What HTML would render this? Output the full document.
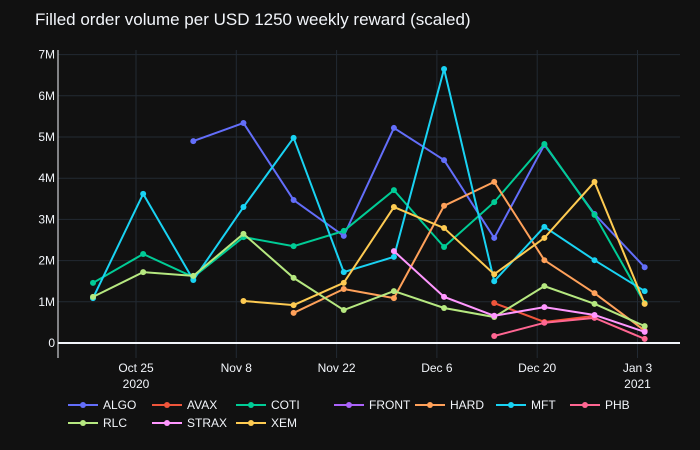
<!DOCTYPE html>
<html><head><meta charset="utf-8"><style>
body{margin:0;background:#111111;}
svg{display:block;font-family:"Liberation Sans",sans-serif;}
</style></head><body>
<svg id="c" width="700" height="450">
<rect width="700" height="450" fill="#111111"/>
<text x="35" y="25" fill="#f2f5fa" font-size="17">Filled order volume per USD 1250 weekly reward (scaled)</text>
<g id="grid"></g><g id="marks"></g><g id="legend"></g>
</svg>
<script>
const categories=["2020-10-19","2020-10-26","2020-11-02","2020-11-09","2020-11-16","2020-11-23","2020-11-30","2020-12-07","2020-12-14","2020-12-21","2020-12-28","2021-01-04"];
const seriesNames=["ALGO","AVAX","COTI","FRONT","HARD","MFT","PHB","RLC","STRAX","XEM"];
const colors=["#636efa","#EF553B","#00cc96","#ab63fa","#FFA15A","#19d3f3","#FF6692","#B6E880","#FF97FF","#FECB52"];
const ALGO=[null,null,4.90,5.34,3.47,2.60,5.22,4.44,2.55,4.81,3.13,1.84];
const AVAX=[null,null,null,null,null,null,null,null,0.97,0.51,0.66,null];
const COTI=[1.46,2.16,1.60,2.57,2.35,2.72,3.71,2.33,3.42,4.83,3.11,0.97];
const FRONT=[null,null,null,null,null,null,null,null,null,null,null,null];
const HARD=[null,null,null,null,0.73,1.31,1.09,3.33,3.91,2.01,1.21,0.30];
const MFT=[1.09,3.62,1.53,3.30,4.98,1.72,2.09,6.65,1.50,2.82,2.01,1.26];
const PHB=[null,null,null,null,null,null,null,null,0.17,0.49,0.61,0.10];
const RLC=[1.12,1.72,1.63,2.65,1.58,0.80,1.26,0.85,0.63,1.38,0.95,0.41];
const STRAX=[null,null,null,null,null,null,2.23,1.12,0.66,0.87,0.68,0.27];
const XEM=[null,null,null,1.02,0.92,1.46,3.30,2.79,1.67,2.55,3.91,0.95];
const series=[ALGO,AVAX,COTI,FRONT,HARD,MFT,PHB,RLC,STRAX,XEM];
const yTicks=[0,1,2,3,4,5,6,7];
const yTickLabels=["0","1M","2M","3M","4M","5M","6M","7M"];
const xTicks=["2020-10-25","2020-11-08","2020-11-22","2020-12-06","2020-12-20","2021-01-03"];
const xTickLabels=[["Oct 25","2020"],["Nov 8",""],["Nov 22",""],["Dec 6",""],["Dec 20",""],["Jan 3","2021"]];
const NS="http://www.w3.org/2000/svg";
const L=58,R=680,T=50,B=358;
const d0=Date.parse("2020-10-25"),pxPerDay=100.3/14;
function xs(d){return 136+(Date.parse(d)-d0)/86400000*pxPerDay;}
function ys(v){return 343-v*41.2;}
function mk(tag,attrs,parent){const e=document.createElementNS(NS,tag);for(const k in attrs)e.setAttribute(k,attrs[k]);parent.appendChild(e);return e;}
const grid=document.getElementById('grid'),marks=document.getElementById('marks'),leg=document.getElementById('legend');
xTicks.forEach((d,i)=>{
  const x=xs(d);
  const g=mk('line',{x1:x,x2:x,y1:T,y2:B,stroke:'#222a33','stroke-width':1},grid);
  
  
  xTickLabels[i].forEach((s,j)=>{if(!s)return;
    const t=mk('text',{x:x,y:372+j*16,fill:'#f2f5fa','font-size':12,'text-anchor':'middle'},grid);t.textContent=s;
    
    });
});
yTicks.forEach((v,i)=>{
  const y=ys(v);
  if(v>0){const g=mk('line',{x1:L,x2:R,y1:y,y2:y,stroke:'#222a33','stroke-width':1},grid);
  
  }
  const t=mk('text',{x:55,y:y+4,fill:'#f2f5fa','font-size':12,'text-anchor':'end'},grid);t.textContent=yTickLabels[i];
  
  
});
const z=mk('line',{x1:L,x2:R,y1:ys(0),y2:ys(0),stroke:'#f2f5fa','stroke-width':2},grid);


const ax=mk('line',{x1:L,x2:L,y1:T,y2:B,stroke:'#f2f5fa','stroke-width':1},grid);


series.forEach((arr,si)=>{
  const g=mk('g',{},marks);
  
  
  let seg=[];const segs=[];
  arr.forEach((v,i)=>{if(v==null){if(seg.length)segs.push(seg);seg=[];}else seg.push([xs(categories[i]),ys(v)]);});
  if(seg.length)segs.push(seg);
  segs.forEach(s=>{const p=mk('polyline',{points:s.map(q=>q.join(',')).join(' '),fill:'none',stroke:colors[si],'stroke-width':2},g);
    
    });
  arr.forEach((v,i)=>{if(v==null)return;
    const c=mk('circle',{cx:xs(categories[i]),cy:ys(v),r:3,fill:colors[si]},g);
    
    });
});
const lx=[68,152,236,334,415,496,570,68,152,236];
const ly=[405,405,405,405,405,405,405,423,423,423];
seriesNames.forEach((n,i)=>{
  const g=mk('g',{},leg);
  
  
  mk('line',{x1:lx[i],x2:lx[i]+30,y1:ly[i],y2:ly[i],stroke:colors[i],'stroke-width':2},g);
  mk('circle',{cx:lx[i]+15,cy:ly[i],r:3,fill:colors[i]},g);
  const t=mk('text',{x:lx[i]+35,y:ly[i]+4,fill:'#f2f5fa','font-size':12},g);t.textContent=n;
});
</script>
</body></html>
